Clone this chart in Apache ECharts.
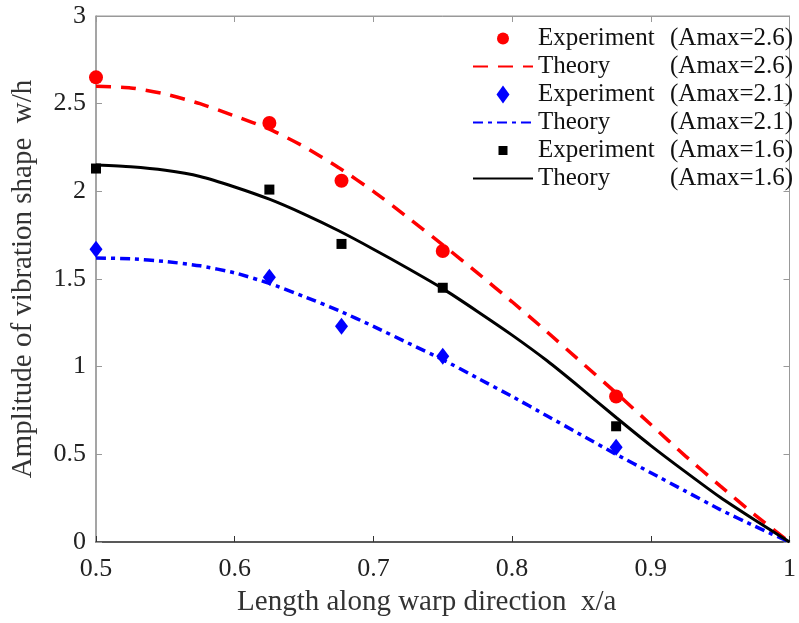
<!DOCTYPE html>
<html>
<head>
<meta charset="utf-8">
<title>Vibration shape amplitude</title>
<script src="https://cdn.jsdelivr.net/npm/echarts@6/dist/echarts.min.js"></script>
<style>
  html, body { margin: 0; padding: 0; background: #fff; }
  #chart { width: 799px; height: 623px; }
</style>
</head>
<body>
<div id="chart"></div>
<script>
// Measured positions along the warp direction (x/a)
const expX = [0.5, 0.625, 0.677, 0.75, 0.875];
// Measured amplitudes (w/h)
const expA26 = [2.65, 2.39, 2.06, 1.66, 0.83];
const expA21 = [1.67, 1.51, 1.23, 1.06, 0.54];
const expA16 = [2.13, 2.01, 1.70, 1.45, 0.66];

// Theoretical curves sampled along x/a
const theoryX = [0.5, 0.525, 0.55, 0.575, 0.6, 0.625, 0.65, 0.675, 0.7, 0.725, 0.75,
                 0.775, 0.8, 0.825, 0.85, 0.875, 0.9, 0.925, 0.95, 0.975, 1.0];
const theoryA26 = [2.60, 2.59, 2.555, 2.50, 2.43, 2.355, 2.255, 2.135, 2.00, 1.85, 1.695,
                   1.535, 1.37, 1.20, 1.025, 0.85, 0.67, 0.49, 0.32, 0.155, 0.0];
const theoryA21 = [1.62, 1.615, 1.60, 1.575, 1.535, 1.475, 1.40, 1.32, 1.23, 1.135, 1.04,
                   0.935, 0.83, 0.72, 0.61, 0.50, 0.395, 0.29, 0.185, 0.09, 0.0];
const theoryA16 = [2.15, 2.14, 2.12, 2.085, 2.025, 1.955, 1.87, 1.775, 1.67, 1.56, 1.445,
                   1.315, 1.18, 1.035, 0.875, 0.71, 0.55, 0.40, 0.255, 0.125, 0.0];

const expLabel = 'Experiment';
const theoryLabel = 'Theory';
const ampTags = ['(Amax=2.6)', '(Amax=2.1)', '(Amax=1.6)'];

const xTitle = 'Length along warp direction  x/a';
const yTitle = 'Amplitude of vibration shape  w/h';

const pairs = (xs, ys) => xs.map((x, i) => [x, ys[i]]);
const serif = '"Liberation Serif", "Times New Roman", serif';

const names = [
  expLabel + ' ' + ampTags[0], theoryLabel + ' ' + ampTags[0],
  expLabel + ' ' + ampTags[1], theoryLabel + ' ' + ampTags[1],
  expLabel + ' ' + ampTags[2], theoryLabel + ' ' + ampTags[2]
];

// Legend glyphs padded inside an 18x18 box so they keep their own size
const iconCircle = 'path://M0,0M18,18M3,9A6,6 0 1,1 15,9A6,6 0 1,1 3,9Z';
const iconDiamond = 'path://M0,0M18,18M9,0L15.5,9L9,18L2.5,9Z';
const iconSquare = 'path://M0,0M18,18M4.5,4.5L13.5,4.5L13.5,13.5L4.5,13.5Z';

const chart = echarts.init(document.getElementById('chart'), null, { renderer: 'canvas' });

const axisTextStyle = { color: '#222', fontFamily: serif, fontSize: 26 };
const curveSmooth = { smooth: 0.2, symbol: 'none', showSymbol: false };

chart.setOption({
  animation: false,
  backgroundColor: '#fff',
  grid: { left: 96, right: 2, top: 16, bottom: 81, show: true, borderColor: '#999', borderWidth: 1 },
  legend: {
    orient: 'vertical',
    left: 467,
    top: 21,
    itemWidth: 60,
    itemHeight: 18,
    itemGap: 3,
    symbolKeepAspect: true,
    data: [
      { name: names[0], icon: iconCircle },
      { name: names[1], itemStyle: { opacity: 0 } },
      { name: names[2], icon: iconDiamond },
      { name: names[3], itemStyle: { opacity: 0 } },
      { name: names[4], icon: iconSquare },
      { name: names[5], itemStyle: { opacity: 0 } }
    ],
    formatter: function (n) {
      const cut = n.indexOf(' (');
      return '{a|' + n.slice(0, cut) + '}{b|' + n.slice(cut + 1) + '}';
    },
    textStyle: {
      fontFamily: serif,
      color: '#111',
      rich: {
        a: { fontFamily: serif, fontSize: 25, color: '#111', width: 132 },
        b: { fontFamily: serif, fontSize: 25, color: '#111' }
      }
    }
  },
  xAxis: [{
    type: 'value',
    min: 0.5, max: 1, interval: 0.1,
    name: xTitle,
    nameLocation: 'middle',
    nameGap: 46,
    nameTextStyle: { fontFamily: serif, fontSize: 29, color: '#333', padding: [0, 32, 0, 0] },
    axisLine: { show: true, onZero: false, lineStyle: { color: '#333', width: 1.5 } },
    axisTick: { show: true, inside: true, length: 6, lineStyle: { color: '#333' } },
    axisLabel: Object.assign({ margin: 14 }, axisTextStyle),
    splitLine: { show: false }
  }, {
    type: 'value', position: 'top',
    min: 0.5, max: 1, interval: 0.1,
    axisLine: { show: true, onZero: false, lineStyle: { color: '#999' } },
    axisTick: { show: true, inside: true, length: 6, lineStyle: { color: '#999' } },
    axisLabel: { show: false },
    splitLine: { show: false }
  }],
  yAxis: [{
    type: 'value',
    min: 0, max: 3, interval: 0.5,
    name: yTitle,
    nameLocation: 'middle',
    nameRotate: 90,
    nameGap: 58,
    nameTextStyle: { fontFamily: serif, fontSize: 29, color: '#333' },
    axisLine: { show: true, onZero: false, lineStyle: { color: '#999', width: 1.5 } },
    axisTick: { show: true, inside: true, length: 6, lineStyle: { color: '#999' } },
    axisLabel: Object.assign({ margin: 10 }, axisTextStyle),
    splitLine: { show: false }
  }, {
    type: 'value', position: 'right',
    min: 0, max: 3, interval: 0.5,
    axisLine: { show: true, onZero: false, lineStyle: { color: '#999' } },
    axisTick: { show: true, inside: true, length: 6, lineStyle: { color: '#999' } },
    axisLabel: { show: false },
    splitLine: { show: false }
  }],
  series: [
    {
      name: names[0], type: 'scatter', data: pairs(expX, expA26),
      symbol: 'circle', symbolSize: 14, itemStyle: { color: '#ff0000', opacity: 1 }, z: 5
    },
    Object.assign({
      name: names[1], type: 'line', data: pairs(theoryX, theoryA26),
      lineStyle: { color: '#ff0000', width: 3.5, type: [15, 10] }, itemStyle: { color: '#ff0000' }
    }, curveSmooth),
    {
      name: names[2], type: 'scatter', data: pairs(expX, expA21),
      symbol: 'diamond', symbolSize: [13, 17], itemStyle: { color: '#0000ff', opacity: 1 }, z: 5
    },
    Object.assign({
      name: names[3], type: 'line', data: pairs(theoryX, theoryA21),
      lineStyle: { color: '#0000ff', width: 3.5, type: [10, 5, 4, 5] }, itemStyle: { color: '#0000ff' }
    }, curveSmooth),
    {
      name: names[4], type: 'scatter', data: pairs(expX, expA16),
      symbol: 'rect', symbolSize: 10, itemStyle: { color: '#000', opacity: 1 }, z: 5
    },
    Object.assign({
      name: names[5], type: 'line', data: pairs(theoryX, theoryA16),
      lineStyle: { color: '#000', width: 3 }, itemStyle: { color: '#000' }
    }, curveSmooth)
  ]
});
</script>
</body>
</html>
